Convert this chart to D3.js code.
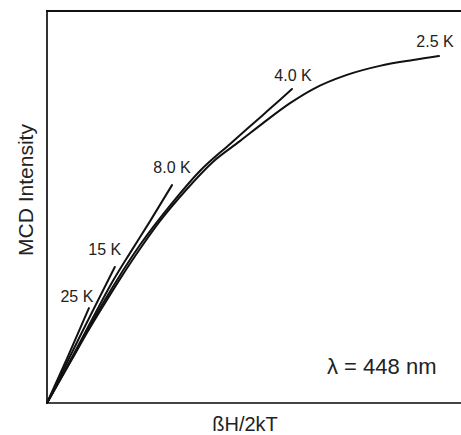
<!DOCTYPE html>
<html>
<head>
<meta charset="utf-8">
<script src="https://cdn.jsdelivr.net/npm/d3@7"></script>
<style>
  html, body { margin: 0; padding: 0; background: #fff; }
  svg { display: block; font-family: "Liberation Sans", Arial, sans-serif; }
</style>
</head>
<body>
<svg id="chart" width="461" height="435"></svg>
<script>
// ---- data (x = βH/2kT, y = MCD intensity, arbitrary units) ----
const temperatures = ["2.5 K", "4.0 K", "8.0 K", "15 K", "25 K"];
const curve2_5 = [
  [0, 0], [0.064, 0.112], [0.102, 0.179], [0.143, 0.247], [0.186, 0.316],
  [0.237, 0.393], [0.288, 0.464], [0.357, 0.546], [0.423, 0.615], [0.492, 0.668],
  [0.551, 0.714], [0.620, 0.765], [0.679, 0.801], [0.765, 0.837], [0.849, 0.860],
  [0.934, 0.875], [1.000, 0.885]
];
const curve4_0 = [
  [0, 0], [0.064, 0.115], [0.143, 0.255], [0.237, 0.403], [0.319, 0.510],
  [0.390, 0.592], [0.467, 0.661], [0.510, 0.699], [0.551, 0.735], [0.594, 0.773],
  [0.625, 0.801]
];
const curve8_0 = [
  [0, 0], [0.064, 0.117], [0.110, 0.204], [0.168, 0.311], [0.212, 0.383],
  [0.263, 0.464], [0.319, 0.556]
];
const curve15 = [[0, 0], [0.087, 0.176], [0.173, 0.347]];
const curve25 = [[0, 0], [0.054, 0.120], [0.107, 0.242]];
const seriesValues = [curve2_5, curve4_0, curve8_0, curve15, curve25];
const xLabel = "ßH/2kT";
const yLabel = "MCD Intensity";
const noteText = "λ = 448 nm";

// ---- layout ----
const svg = d3.select("#chart");
const mLeft = 47, mTop = 11, mBottom = 403, mRight = 461;
const x = d3.scaleLinear().domain([0, 1]).range([mLeft, 439]);
const y = d3.scaleLinear().domain([0, 1]).range([mBottom, mTop]);

// frame (left, top, bottom; right side open)
svg.append("line").attr("x1", mLeft).attr("x2", mLeft).attr("y1", mTop).attr("y2", mBottom)
  .attr("stroke", "#333").attr("stroke-width", 2);
svg.append("line").attr("x1", mLeft - 1).attr("x2", mRight).attr("y1", mTop).attr("y2", mTop)
  .attr("stroke", "#111").attr("stroke-width", 2);
svg.append("line").attr("x1", mLeft - 1).attr("x2", mRight).attr("y1", mBottom).attr("y2", mBottom)
  .attr("stroke", "#444").attr("stroke-width", 2);

// curves
const line = d3.line().x(d => x(d[0])).y(d => y(d[1])).curve(d3.curveMonotoneX);
svg.append("g").selectAll("path").data(seriesValues).join("path")
  .attr("d", d => line(d))
  .attr("fill", "none").attr("stroke", "#111").attr("stroke-width", 2)
  .attr("stroke-linecap", "round");

// temperature labels near the curve ends
const labelOffsets = [[-4, -9], [1, -8], [0, -12], [-10, -12], [-12, -6]];
svg.append("g").selectAll("text").data(temperatures).join("text")
  .attr("x", (d, i) => x(seriesValues[i][seriesValues[i].length - 1][0]) + labelOffsets[i][0])
  .attr("y", (d, i) => y(seriesValues[i][seriesValues[i].length - 1][1]) + labelOffsets[i][1])
  .attr("text-anchor", "middle")
  .attr("font-size", 16).attr("fill", "#222")
  .text(d => d);

// wavelength note
svg.append("text").attr("x", 327).attr("y", 374)
  .attr("font-size", 22).attr("fill", "#222").text(noteText);

// axis titles
svg.append("text").attr("x", 245).attr("y", 431).attr("text-anchor", "middle")
  .attr("font-size", 20).attr("fill", "#222").text(xLabel);
svg.append("text").attr("transform", "translate(33,190) rotate(-90)")
  .attr("text-anchor", "middle").attr("font-size", 21).attr("fill", "#222").text(yLabel);
</script>
</body>
</html>
